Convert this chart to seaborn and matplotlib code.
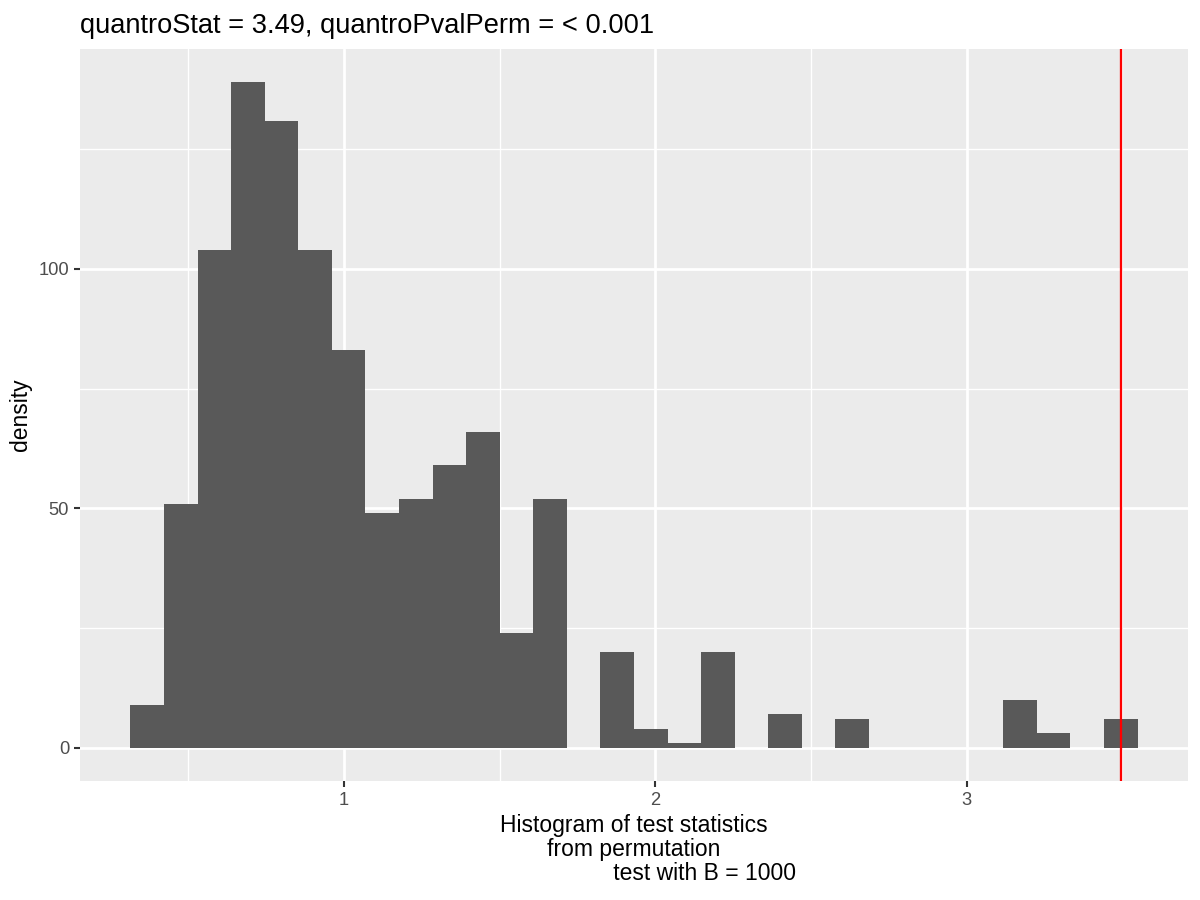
import numpy as np
import pandas as pd
import seaborn as sns
import matplotlib
matplotlib.use("Agg")
import matplotlib.pyplot as plt

# permutation test statistics, 30 bins (ggplot default)
stat_min = 0.368
stat_max = 3.495
n_bins = 30
bin_density = [9, 51, 104, 139, 131, 104, 83, 49, 52, 59,
               66, 24, 52, 0, 20, 4, 1, 20, 0, 7,
               0, 6, 0, 0, 0, 0, 10, 3, 0, 6]
quantro_stat = 3.495
title_text = "quantroStat = 3.49, quantroPvalPerm = < 0.001"
x_label = ("Histogram of test statistics\nfrom permutation\n"
           "                      test with B = 1000")
y_label = "density"
x_ticks = [1, 2, 3]
y_ticks = [0, 50, 100]

# bin layout like ggplot: width = range / (bins - 1), centred on the data ends
bw = (stat_max - stat_min) / (n_bins - 1)
centers = stat_min + bw * np.arange(n_bins)
x_lo, x_hi = centers[0] - bw / 2, centers[-1] + bw / 2
df = pd.DataFrame({"stat": centers, "density": bin_density})

sns.set_theme(style="darkgrid")
plt.rcParams["font.family"] = ["Liberation Sans", "DejaVu Sans"]

fig, ax = plt.subplots(figsize=(8, 6), dpi=150)
fig.subplots_adjust(left=0.0667, right=0.99, top=0.9456, bottom=0.1322)

sns.histplot(data=df, x="stat", weights="density", bins=n_bins,
             binrange=(x_lo, x_hi), stat="count",
             color="#595959", alpha=1, edgecolor="none", linewidth=0, ax=ax)
ax.axvline(quantro_stat, color="red", linewidth=1.1, zorder=3)

# ggplot-style limits (5% expansion)
xr = x_hi - x_lo
ax.set_xlim(x_lo - 0.05 * xr, x_hi + 0.05 * xr)
ymax = max(bin_density)
ax.set_ylim(-0.05 * ymax, ymax * 1.05)

ax.set_facecolor("#EBEBEB")
ax.set_xticks(x_ticks)
ax.set_xticks([0.5, 1.5, 2.5, 3.5], minor=True)
ax.set_yticks(y_ticks)
ax.set_yticks([25, 75, 125], minor=True)
ax.grid(which="major", color="white", linewidth=1.3)
ax.grid(which="minor", color="white", linewidth=0.65)
ax.set_axisbelow(True)
for s in ax.spines.values():
    s.set_visible(False)

ax.tick_params(axis="both", which="major", length=2.75, width=1.0,
               color="#333333", labelcolor="#4D4D4D", labelsize=8.8, pad=2.5,
               bottom=True, left=True)
ax.tick_params(axis="both", which="minor", length=0)

ax.set_xlabel(x_label, fontsize=11, color="black", labelpad=2.5,
              linespacing=1.05, multialignment="center")
ax.set_ylabel(y_label, fontsize=11, color="black", labelpad=3)
ax.set_title(title_text, loc="left", fontsize=13.1, color="black", pad=7.5)

plt.savefig("out.png", dpi=150)
plt.close()
